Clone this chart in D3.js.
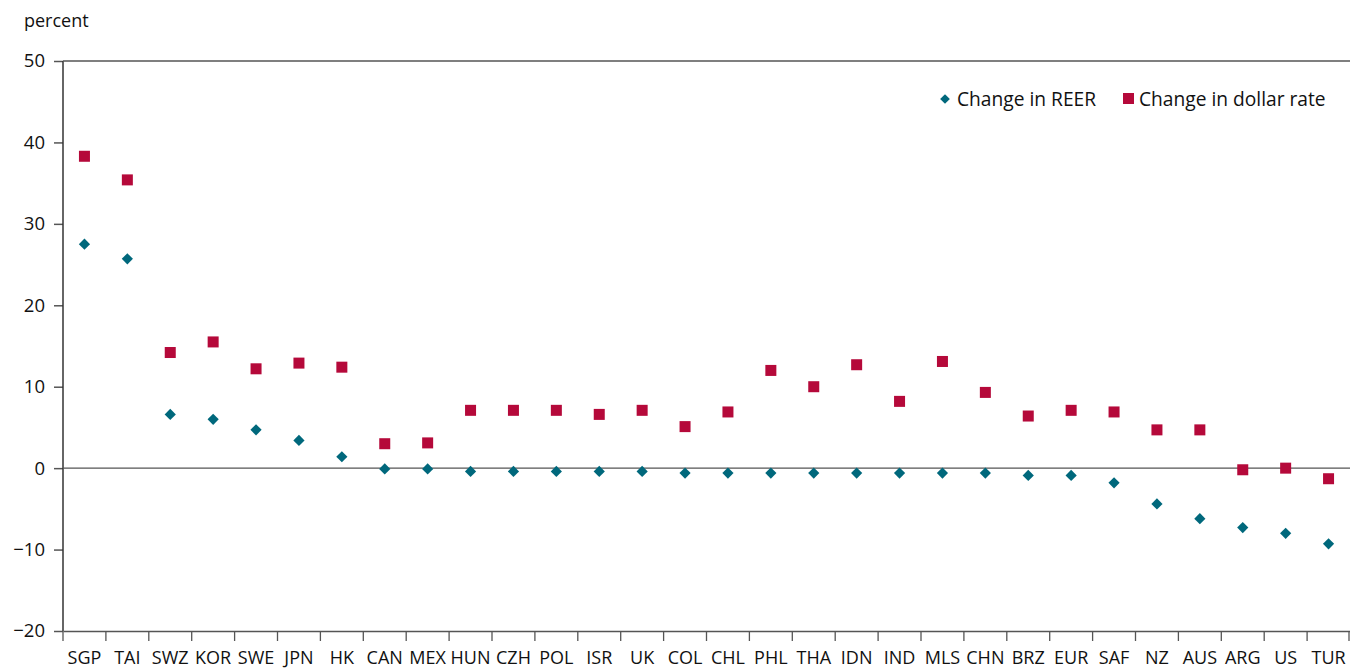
<!DOCTYPE html>
<html><head><meta charset="utf-8">
<script src="https://cdn.jsdelivr.net/npm/d3@7"></script>
<style>body{margin:0;background:#fff}svg{display:block}text{font-family:"Open Sans","Noto Sans",sans-serif;fill:#111}</style>
</head><body><svg id="c" width="1350" height="669"></svg>
<script>
const categories = ["SGP","TAI","SWZ","KOR","SWE","JPN","HK","CAN","MEX","HUN","CZH","POL","ISR","UK","COL","CHL","PHL","THA","IDN","IND","MLS","CHN","BRZ","EUR","SAF","NZ","AUS","ARG","US","TUR"];
const reer = [27.5,25.7,6.6,6.0,4.7,3.4,1.4,-0.1,-0.1,-0.4,-0.4,-0.4,-0.4,-0.4,-0.6,-0.6,-0.6,-0.6,-0.6,-0.6,-0.6,-0.6,-0.9,-0.9,-1.8,-4.4,-6.2,-7.3,-8.0,-9.3];
const dollar = [38.3,35.4,14.2,15.5,12.2,12.9,12.4,3.0,3.1,7.1,7.1,7.1,6.6,7.1,5.1,6.9,12.0,10.0,12.7,8.2,13.1,9.3,6.4,7.1,6.9,4.7,4.7,-0.2,0.0,-1.3];
const yTicks = [-20,-10,0,10,20,30,40,50];
const seriesNames = ["Change in REER","Change in dollar rate"];
const colors = ["#00687c","#b5093a"];

const svg = d3.select("#c");
const L = 63, R = 1350, T = 61, B = 631;
const x = d3.scaleBand().domain(categories).range([L, R]);
const y = d3.scaleLinear().domain([-20, 50]).range([B, T]);

// y axis
const ya = svg.append("g").attr("transform", `translate(${L},0)`)
  .call(d3.axisLeft(y).tickValues(yTicks).tickSize(9).tickPadding(9).tickFormat(d => d < 0 ? "\u2212" + Math.abs(d) : d));
ya.select(".domain").remove();
ya.selectAll(".tick line").attr("stroke", "#555").attr("stroke-width", 1.5);
ya.selectAll("text").attr("font-size", 18.5).attr("fill", "#111").attr("font-family", "Open Sans, Noto Sans, sans-serif");
svg.append("line").attr("x1", L).attr("x2", L).attr("y1", T).attr("y2", B).attr("stroke", "#333").attr("stroke-width", 1.5);

// top frame line and zero line
svg.append("line").attr("x1", L).attr("x2", R).attr("y1", y(50)).attr("y2", y(50)).attr("stroke", "#555").attr("stroke-width", 1.5);
svg.append("line").attr("x1", L).attr("x2", R).attr("y1", y(0)).attr("y2", y(0)).attr("stroke", "#555").attr("stroke-width", 1.2);

// x axis
const xa = svg.append("g").attr("transform", `translate(0,${B})`)
  .call(d3.axisBottom(x).tickSize(0).tickPadding(20));
xa.select(".domain").attr("stroke", "#555").attr("stroke-width", 1.5);
xa.selectAll("text").attr("font-size", 18).attr("fill", "#111").attr("font-family", "Open Sans, Noto Sans, sans-serif");
const bounds = categories.map(c => x(c)).concat([R - 1]);
svg.append("g").selectAll("line").data(bounds).join("line")
  .attr("x1", d => d).attr("x2", d => d).attr("y1", B).attr("y2", B + 10)
  .attr("stroke", "#555").attr("stroke-width", 1.3);

svg.append("text").attr("x", 24).attr("y", 27).attr("font-size", 18).text("percent");

const diamond = d3.symbol().type(d3.symbolDiamond2).size(80);
// series
svg.append("g").selectAll("path").data(reer).join("path")
  .attr("d", diamond)
  .attr("transform", (d, i) => `translate(${x(categories[i]) + x.bandwidth()/2},${y(d)})`)
  .attr("fill", colors[0]);
const s = 11;
svg.append("g").selectAll("rect").data(dollar).join("rect")
  .attr("x", (d, i) => x(categories[i]) + x.bandwidth()/2 - s/2)
  .attr("y", d => y(d) - s/2).attr("width", s).attr("height", s)
  .attr("fill", colors[1]);

// legend
const lg = svg.append("g");
lg.append("path").attr("d", d3.symbol().type(d3.symbolDiamond2).size(60)).attr("transform", "translate(945,99)").attr("fill", colors[0]);
lg.append("text").attr("x", 957).attr("y", 106).attr("font-size", 19.2).text(seriesNames[0]);
lg.append("rect").attr("x", 1123).attr("y", 93).attr("width", 11).attr("height", 11).attr("fill", colors[1]);
lg.append("text").attr("x", 1139).attr("y", 106).attr("font-size", 19.2).text(seriesNames[1]);
</script></body></html>
